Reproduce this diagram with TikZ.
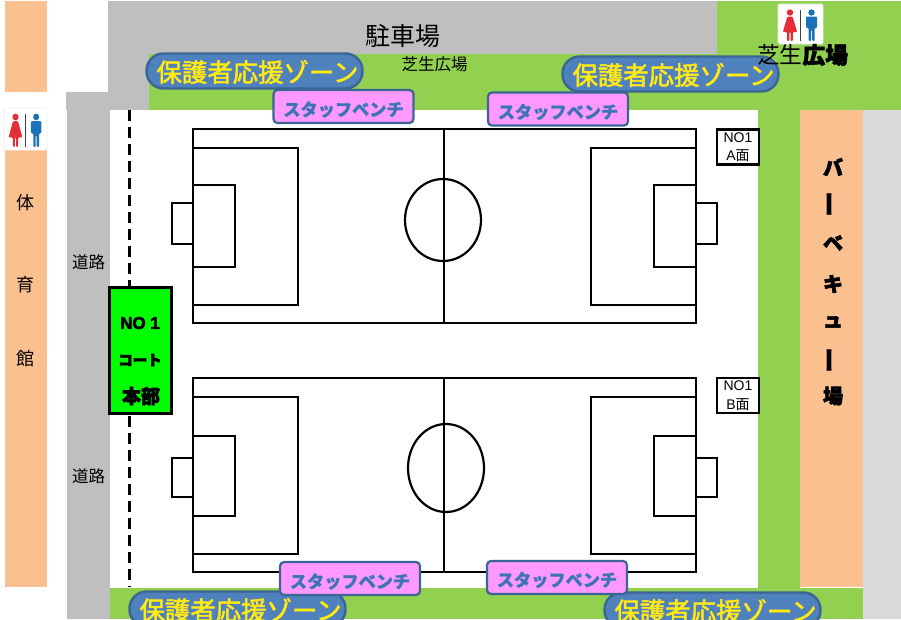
\documentclass[tikz,border=0pt]{standalone}
\usepackage{fontspec}
\setmainfont{Noto Sans CJK JP}
\newfontfamily\latinf{Liberation Sans}
\definecolor{orangeb}{HTML}{FAC090}
\definecolor{grassg}{HTML}{92D050}
\definecolor{roadg}{HTML}{BFBFBF}
\definecolor{lightg}{HTML}{D9D9D9}
\definecolor{hqg}{HTML}{00FF00}
\definecolor{zoneb}{HTML}{4F81BD}
\definecolor{edgeb}{HTML}{3A6594}
\definecolor{benchp}{HTML}{FF99FF}
\definecolor{benchb}{HTML}{3F72B5}
\definecolor{wcred}{HTML}{E52D35}
\definecolor{wcblue}{HTML}{1C72B8}
\newcommand{\fs}[1]{\fontsize{#1}{#1}\selectfont}
\newcommand{\strk}[1]{\special{pdf:code q 2 Tr 0.55 w 1 0.88 0.15 RG}#1\special{pdf:code Q}}
\newcommand{\bstrk}[1]{\special{pdf:code q 2 Tr 0.6 w 0 0 0 RG}#1\special{pdf:code Q}}
\newcommand{\blstrk}[1]{\special{pdf:code q 2 Tr 0.25 w 0.30 0.50 0.78 RG}#1\special{pdf:code Q}}
\newcommand{\dn}[2]{\raisebox{0pt}[\dimexpr\height+#1\relax][\depth]{#2}}
\tikzset{
  x=1pt,y=-1pt,
  zone/.style={draw=edgeb,line width=2.4pt,fill=zoneb,rounded corners=17pt,minimum width=216pt,minimum height=35pt,inner sep=0pt,text=yellow,font=\fs{25.4}},
  bench/.style={draw=edgeb,line width=2.2pt,fill=benchp,rounded corners=4pt,minimum width=140pt,minimum height=33pt,inner sep=0pt,text=benchb,font=\bfseries\fs{17.2}},
  line/.style={draw=black,line width=2.2pt},
  lab/.style={inner sep=0pt,text=black},
  vlab/.style={inner sep=0pt,text=black,font=\bfseries\fs{20}},
  vbar/.style={inner sep=0pt,text=black,rotate=90,font=\bfseries\fs{26}},
  sublab/.style={inner sep=0pt,text=black,font=\fs{16.5}},
  courtlab/.style={draw=black,line width=2.2pt,fill=white,minimum width=42pt,minimum height=35pt,inner sep=0pt,align=center,font=\fs{14},execute at begin node={\setlength{\baselineskip}{18.5pt}}},
  hqlab/.style={inner sep=0pt,text=black,font=\bfseries\fs{17}}
}
\newcommand{\wcicon}{%
  \fill[white,draw=black!8,line width=.6pt,rounded corners=1.5pt] (-12,-9) rectangle (33,31);
  \fill[wcred] (0,-.5) circle[radius=3.2];
  \fill[wcred,rounded corners=1pt] (-2.6,3.5) -- (2.6,3.5) -- (7.2,19) -- (2.8,19) -- (2.8,28) -- (.6,28) -- (.6,19) -- (-.6,19) -- (-.6,28) -- (-2.8,28) -- (-2.8,19) -- (-7.2,19) -- cycle;
  \fill[black!75] (9.8,-3) rectangle (11.2,28);
  \fill[wcblue] (21.5,-.5) circle[radius=3.2];
  \fill[wcblue,rounded corners=1pt] (16,3.5) -- (27,3.5) -- (27,15) -- (24.5,15) -- (24.5,28) -- (22,28) -- (22,17) -- (21,17) -- (21,28) -- (18.5,28) -- (18.5,15) -- (16,15) -- cycle;
}
\newcommand{\pitch}[6]{% top, circle cx, cy, rx, ry, name
  \begin{scope}[shift={(0,#1)}]
    \draw[line] (193,0) rectangle (696,194);
    \draw[line] (193,19) rectangle (298,176);
    \draw[line] (591,19) rectangle (696,176);
    \draw[line] (444,0) -- (444,194);
  \end{scope}
  \draw[line] (#2,#3) ellipse[x radius=#4,y radius=#5];
}
\begin{document}
\begin{tikzpicture}
\useasboundingbox (0,0) rectangle (901,619);
\clip (0,0) rectangle (901,619);
\fill[white] (0,0) rectangle (901,619);
% ground
\fill[roadg] (108,1) rectangle (717,54);
\fill[roadg] (108,1) rectangle (149,110);
\fill[roadg] (66,92) rectangle (149,110);
\fill[roadg] (67,92) rectangle (110,619);
\fill[grassg] (149,54) rectangle (717,110);
\fill[grassg] (717,1) rectangle (901,110);
\fill[grassg] (758,110) rectangle (800,619);
\fill[grassg] (110,588) rectangle (863,619);
\fill[lightg] (863,110) rectangle (901,619);
\fill[orangeb] (5,1) rectangle (47,92);
\fill[orangeb] (5,150) rectangle (47,587);
\fill[orangeb] (800,110) rectangle (863,587);
% icons
\begin{scope}[shift={(790,13)}]\wcicon\end{scope}
\begin{scope}[shift={(15.5,117.5)},yscale=1.05,xscale=.96]\wcicon\end{scope}
% dashed boundary
\coordinate (dashA) at (129,110);
\coordinate (dashB) at (129,587);
\draw[black,line width=3pt,dash pattern=on 11pt off 6pt] (dashA) -- (dashB);
% pitches
\pitch{129}{443}{220}{38}{41}{A}
\pitch{378}{446}{468}{38}{44}{B}
\draw[line] (193,185) rectangle (235,267);
\draw[line] (172,203) rectangle (193,244);
\draw[line] (654,185) rectangle (696,267);
\draw[line] (696,203) rectangle (717,244);
\draw[line] (193,436) rectangle (235,516);
\draw[line] (172,458) rectangle (193,497);
\draw[line] (654,436) rectangle (696,516);
\draw[line] (696,458) rectangle (717,497);
% court labels
\node[courtlab] (courtA) at (738,147) {{\latinf NO1}\\{\latinf A}面};
\node[courtlab] (courtB) at (738,395.5) {{\latinf NO1}\\{\latinf B}面};
% headquarters
\node[draw=black,line width=3pt,fill=hqg,minimum width=62pt,minimum height=126pt,inner sep=0pt] (hq) at (140,350) {};
\node[hqlab] (hq1) at (140,323) {\bstrk{\latinf NO 1}};
\node[hqlab,font=\bfseries\fs{14.5}] (hq2) at (140,360) {\bstrk{コート}};
\node[hqlab,font=\bfseries\fs{19}] (hq3) at (141,396) {\bstrk{本部}};
% zones
\node[zone] (z1) at (254.5,71) {\hspace*{6pt}\dn{2pt}{\strk{保護者応援ゾーン}}};
\node[zone] (z2) at (670.5,74) {\hspace*{6pt}\dn{2pt}{\strk{保護者応援ゾーン}}};
\node[zone] (z3) at (237.5,609) {\hspace*{6pt}\dn{2pt}{\strk{保護者応援ゾーン}}};
\node[zone] (z4) at (712.5,610) {\hspace*{6pt}\dn{2pt}{\strk{保護者応援ゾーン}}};
% benches
\node[bench] (b1) at (343.5,106.5) {\dn{6pt}{\blstrk{スタッフベンチ}}};
\node[bench] (b2) at (558,109) {\dn{6pt}{\blstrk{スタッフベンチ}}};
\node[bench] (b3) at (350,578.5) {\dn{6pt}{\blstrk{スタッフベンチ}}};
\node[bench] (b4) at (557,577.5) {\dn{5pt}{\blstrk{スタッフベンチ}}};
% place labels
\node[lab,font=\fs{25}] (park) at (403,36) {駐車場};
\node[sublab] (lawn1) at (434.5,64) {芝生広場};
\node[lab,font=\fs{22.7}] (lawn2) at (802.5,55) {芝生{\bfseries\bstrk{広場}}};
\node[sublab] (road1) at (88.5,262.5) {道路};
\node[sublab] (road2) at (88.5,476) {道路};
\node[lab,font=\fs{18}] (gym1) at (25.5,203) {体};
\node[lab,font=\fs{18}] (gym2) at (25.5,285) {育};
\node[lab,font=\fs{18}] (gym3) at (25.5,359) {館};
\node[vlab] (bbq1) at (833,167) {\bstrk{バ}};
\node[vbar] (bbq2) at (833,204) {ー};
\node[vlab] (bbq3) at (833,243) {\bstrk{ベ}};
\node[vlab] (bbq4) at (833,284) {\bstrk{キ}};
\node[vlab] (bbq5) at (833,322) {\bstrk{ュ}};
\node[vbar] (bbq6) at (833,360) {ー};
\node[vlab] (bbq7) at (833,396) {\bstrk{場}};
\end{tikzpicture}
\end{document}
